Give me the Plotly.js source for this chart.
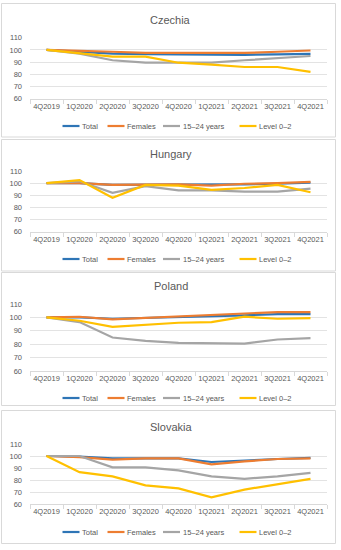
<!DOCTYPE html>
<html>
<head>
<meta charset="utf-8">
<script src="https://cdn.plot.ly/plotly-3.0.1.min.js"></script>
<style>
html,body{margin:0;padding:0;background:#fff;}
#chart{width:341px;height:550px;}
</style>
</head>
<body>
<div id="chart"></div>
<script>
var quarters = ["4Q2019","1Q2020","2Q2020","3Q2020","4Q2020","1Q2021","2Q2021","3Q2021","4Q2021"];
var seriesNames = ["Total","Females","15\u201324 years","Level 0\u20132"];
var countries = ["Czechia","Hungary","Poland","Slovakia"];

var czechiaTotal   = [100, 98.5, 97, 96.5, 96.3, 96, 96, 96.3, 96.8];
var czechiaFemales = [100, 99.5, 98.5, 97.5, 97.5, 97, 97.5, 98.5, 99.5];
var czechiaYouth   = [100, 97, 91.5, 89.5, 89.5, 89.5, 91.5, 93, 95];
var czechiaLevel   = [100, 97.5, 94.5, 94.5, 89.5, 88, 86, 86, 82];

var hungaryTotal   = [100, 100, 98.5, 98.5, 99, 99, 99, 99.5, 100.5];
var hungaryFemales = [100, 100, 98.5, 99, 99, 98, 99.5, 100, 101];
var hungaryYouth   = [100, 101.5, 92, 97.5, 94, 94, 93, 93, 95.5];
var hungaryLevel   = [100, 102.5, 88, 98.5, 98, 94.5, 96, 98.5, 92.5];

var polandTotal    = [100, 100, 99, 99.5, 100, 100.5, 101.5, 102.5, 102.5];
var polandFemales  = [100, 100.5, 98.5, 99.5, 100.5, 101.5, 102.5, 104, 104];
var polandYouth    = [100, 96.5, 85, 82.5, 81, 81, 80.5, 83.5, 84.5];
var polandLevel    = [100, 97.5, 93, 94.5, 96, 96.5, 100.5, 99, 99.5];

var slovakiaTotal   = [100, 99.5, 98, 98, 98, 95, 96.5, 97.5, 98.5];
var slovakiaFemales = [100, 99, 97, 98, 98, 93, 95.5, 97.5, 98];
var slovakiaYouth   = [100, 100, 90.5, 90.5, 88, 83, 81, 83, 86];
var slovakiaLevel   = [100, 86.5, 83, 75.5, 73, 65.5, 72, 76.5, 81];

var yTicks = [60, 70, 80, 90, 100, 110];

var countryData = [
  [czechiaTotal, czechiaFemales, czechiaYouth, czechiaLevel],
  [hungaryTotal, hungaryFemales, hungaryYouth, hungaryLevel],
  [polandTotal, polandFemales, polandYouth, polandLevel],
  [slovakiaTotal, slovakiaFemales, slovakiaYouth, slovakiaLevel]
];

(function () {
var colors = ["#2E75B6", "#ED7D31", "#A5A5A5", "#FFC000"];
var W = 341, H = 550;
// plot areas (pixels from top): [y of 110, y of 60]
var plotPx = [[37.7, 98.7], [171, 231.7], [304, 371], [444, 504]];
var titlePx = [20, 154, 286, 427];
var legendPx = [126, 259, 398, 532];
var boxPx = [[3.5, 137], [139.5, 271], [272.5, 405.5], [410.5, 543.5]];
var legendLineX = [62.5, 107.5, 163, 239.5];
var legendLineLen = 17;

var font = "Liberation Sans, Arial, sans-serif";
var textColor = "#595959";
var traces = [];
var layout = {
  width: W, height: H,
  margin: {l: 0, r: 0, t: 0, b: 0},
  paper_bgcolor: "#fff", plot_bgcolor: "#fff",
  font: {family: font, size: 7.5, color: textColor},
  showlegend: false,
  shapes: [], annotations: []
};

for (var c = 0; c < countries.length; c++) {
  var ax = c === 0 ? "" : String(c + 1);
  for (var s = 0; s < seriesNames.length; s++) {
    traces.push({
      type: "scatter", mode: "lines",
      x: quarters, y: countryData[c][s],
      name: seriesNames[s],
      line: {color: colors[s], width: 2.2},
      xaxis: "x" + ax, yaxis: "y" + ax,
      hoverinfo: "skip"
    });
    // legend entry
    var ly = (H - legendPx[c]) / H;
    layout.shapes.push({
      type: "line", xref: "paper", yref: "paper",
      x0: legendLineX[s] / W, x1: (legendLineX[s] + legendLineLen) / W,
      y0: ly, y1: ly,
      line: {color: colors[s], width: 2.2}
    });
    layout.annotations.push({
      xref: "paper", yref: "paper",
      x: (legendLineX[s] + legendLineLen + 0.5) / W, y: ly,
      xanchor: "left", yanchor: "middle",
      text: seriesNames[s], showarrow: false,
      font: {family: font, size: 7.5, color: textColor}
    });
  }
  var pTop = plotPx[c][0], pBot = plotPx[c][1];
  layout["xaxis" + ax] = {
    domain: [30 / W, 327 / W],
    anchor: "y" + ax,
    type: "category",
    categoryarray: quarters,
    range: [-0.5, 8.5],
    showgrid: false, zeroline: false,
    showline: true, linecolor: "#d9d9d9", linewidth: 1,
    ticks: "outside", tickson: "boundaries", ticklen: 4, tickcolor: "#d9d9d9",
    tickfont: {family: font, size: 7.5, color: textColor},
    tickangle: 0, fixedrange: true
  };
  layout["yaxis" + ax] = {
    domain: [(H - pBot) / H, (H - pTop) / H],
    anchor: "x" + ax,
    range: [60, 110],
    tickvals: yTicks,
    showgrid: true, gridcolor: "#e3e3e3", gridwidth: 1,
    zeroline: false, showline: false, ticks: "",
    tickfont: {family: font, size: 7.5, color: textColor},
    ticklabelstandoff: 7, fixedrange: true
  };
  layout.annotations.push({
    xref: "paper", yref: "paper",
    x: 0.5, y: (H - titlePx[c]) / H,
    xanchor: "center", yanchor: "middle",
    text: countries[c], showarrow: false,
    font: {family: font, size: 11, color: "#595959"}
  });
  layout.shapes.push({
    type: "rect", xref: "paper", yref: "paper",
    x0: 1.5 / W, x1: 335.5 / W,
    y0: (H - boxPx[c][1]) / H, y1: (H - boxPx[c][0]) / H,
    line: {color: "#d9d9d9", width: 1}, fillcolor: "rgba(0,0,0,0)",
    layer: "below"
  });
}

Plotly.newPlot("chart", traces, layout, {displayModeBar: false, staticPlot: true});
})();
</script>
</body>
</html>
